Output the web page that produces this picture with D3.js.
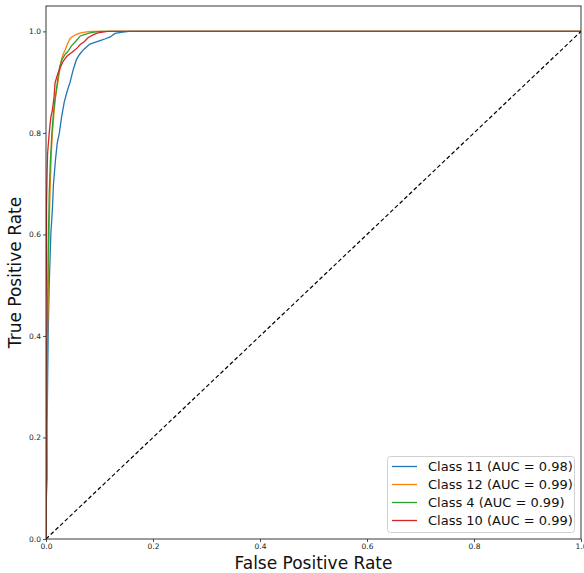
<!DOCTYPE html>
<html><head><meta charset="utf-8">
<script src="https://cdn.jsdelivr.net/npm/d3@7"></script>
<style>body{margin:0;background:#fff}svg{display:block}</style>
</head><body>
<script>
const classNames = ["Class 11", "Class 12", "Class 4", "Class 10"];
const aucValues = [0.98, 0.99, 0.99, 0.99];
const colors = ["#1f77b4", "#ff7f0e", "#2ca02c", "#d62728"];
const xTicks = [0, 0.2, 0.4, 0.6, 0.8, 1.0];
const yTicks = [0, 0.2, 0.4, 0.6, 0.8, 1.0];

const rocClass11 = [[0,0],[0,0.06],[0.002,0.12],[0.002,0.21],[0.003,0.31],[0.004,0.40],[0.006,0.50],[0.009,0.60],[0.012,0.65],[0.014,0.70],[0.018,0.75],[0.021,0.78],[0.025,0.80],[0.029,0.83],[0.034,0.86],[0.039,0.88],[0.045,0.90],[0.051,0.925],[0.057,0.945],[0.063,0.955],[0.070,0.964],[0.082,0.975],[0.090,0.978],[0.101,0.982],[0.110,0.985],[0.120,0.989],[0.129,0.996],[0.140,0.998],[0.155,1.0],[1,1]];
const rocClass12 = [[0,0],[0,0.12],[0.002,0.21],[0.002,0.37],[0.004,0.46],[0.005,0.55],[0.006,0.62],[0.008,0.70],[0.010,0.76],[0.012,0.80],[0.015,0.84],[0.017,0.866],[0.020,0.885],[0.023,0.905],[0.026,0.925],[0.029,0.945],[0.032,0.955],[0.036,0.964],[0.040,0.975],[0.045,0.986],[0.051,0.991],[0.057,0.994],[0.065,0.997],[0.076,0.999],[0.085,1.0],[1,1]];
const rocClass4 = [[0,0],[0,0.21],[0.002,0.27],[0.002,0.40],[0.003,0.46],[0.004,0.55],[0.005,0.62],[0.006,0.68],[0.008,0.74],[0.011,0.80],[0.014,0.84],[0.017,0.866],[0.020,0.89],[0.023,0.915],[0.026,0.932],[0.030,0.945],[0.036,0.955],[0.042,0.962],[0.048,0.972],[0.057,0.982],[0.064,0.991],[0.073,0.994],[0.082,0.997],[0.100,1.0],[1,1]];
const rocClass10 = [[0,0],[0,0.46],[0.001,0.55],[0.001,0.65],[0.002,0.72],[0.003,0.76],[0.006,0.80],[0.009,0.83],[0.012,0.846],[0.015,0.87],[0.017,0.899],[0.021,0.913],[0.025,0.925],[0.032,0.941],[0.039,0.951],[0.045,0.956],[0.051,0.961],[0.058,0.967],[0.064,0.974],[0.072,0.980],[0.079,0.988],[0.088,0.993],[0.097,0.997],[0.115,1.0],[1,1]];
const curves = [rocClass11, rocClass12, rocClass4, rocClass10];
const diagonal = [[0,0],[1,1]];

const W = 584, H = 573;
const svg = d3.select("body").append("svg").attr("width", W).attr("height", H)
  .style("font-family", "DejaVu Sans, sans-serif");

const L = 46, R = 581, T = 6, B = 539;
const x = d3.scaleLinear().domain([0, 1]).range([L, R]);
const y = d3.scaleLinear().domain([0, 1.05]).range([B, T]);

const clip = svg.append("defs").append("clipPath").attr("id", "c")
  .append("rect").attr("x", L).attr("y", T).attr("width", R - L).attr("height", B - T);

const line = d3.line().x(d => x(d[0])).y(d => y(d[1]));
const g = svg.append("g").attr("clip-path", "url(#c)");
curves.forEach((c, i) => {
  g.append("path").datum(c).attr("d", line).attr("fill", "none")
    .attr("stroke", colors[i]).attr("stroke-width", 1.3);
});
g.append("path").datum(diagonal).attr("d", line).attr("fill", "none")
  .attr("stroke", "#000").attr("stroke-width", 1.2).attr("stroke-dasharray", "4,2.5");

// spines
svg.append("rect").attr("x", L).attr("y", T).attr("width", R - L).attr("height", B - T)
  .attr("fill", "none").attr("stroke", "#222").attr("stroke-width", 0.9);

const xAxis = svg.append("g").attr("transform", `translate(0,${B})`)
  .call(d3.axisBottom(x).tickValues(xTicks).tickFormat(d3.format(".1f")).tickSizeOuter(0).tickSize(3).tickPadding(2));
const yAxis = svg.append("g").attr("transform", `translate(${L},0)`)
  .call(d3.axisLeft(y).tickValues(yTicks).tickFormat(d3.format(".1f")).tickSizeOuter(0).tickSize(3).tickPadding(2));
[xAxis, yAxis].forEach(a => {
  a.select(".domain").remove();
  a.selectAll("text").attr("font-size", 7.5).attr("fill", "#222").attr("font-family", "DejaVu Sans, sans-serif");
  a.selectAll("line").attr("stroke", "#222").attr("stroke-width", 0.8);
});

svg.append("text").attr("x", (L + R) / 2).attr("y", 569).attr("text-anchor", "middle")
  .attr("font-size", 17).attr("fill", "#111").text("False Positive Rate");
svg.append("text").attr("transform", `translate(21,${(T + B) / 2}) rotate(-90)`).attr("text-anchor", "middle")
  .attr("font-size", 17).attr("fill", "#111").text("True Positive Rate");

// legend
const lg = svg.append("g");
lg.append("rect").attr("x", 387.5).attr("y", 456.5).attr("width", 187).attr("height", 76)
  .attr("rx", 3).attr("fill", "#fff").attr("fill-opacity", 0.8).attr("stroke", "#ccc").attr("stroke-width", 0.9);
classNames.forEach((n, i) => {
  const yy = 466.5 + i * 18;
  lg.append("line").attr("x1", 392).attr("x2", 417).attr("y1", yy).attr("y2", yy)
    .attr("stroke", colors[i]).attr("stroke-width", 1.3);
  lg.append("text").attr("x", 428).attr("y", yy).attr("dy", "0.36em").attr("font-size", 13)
    .attr("fill", "#111").text(`${n} (AUC = ${aucValues[i].toFixed(2)})`);
});
</script>
</body></html>
